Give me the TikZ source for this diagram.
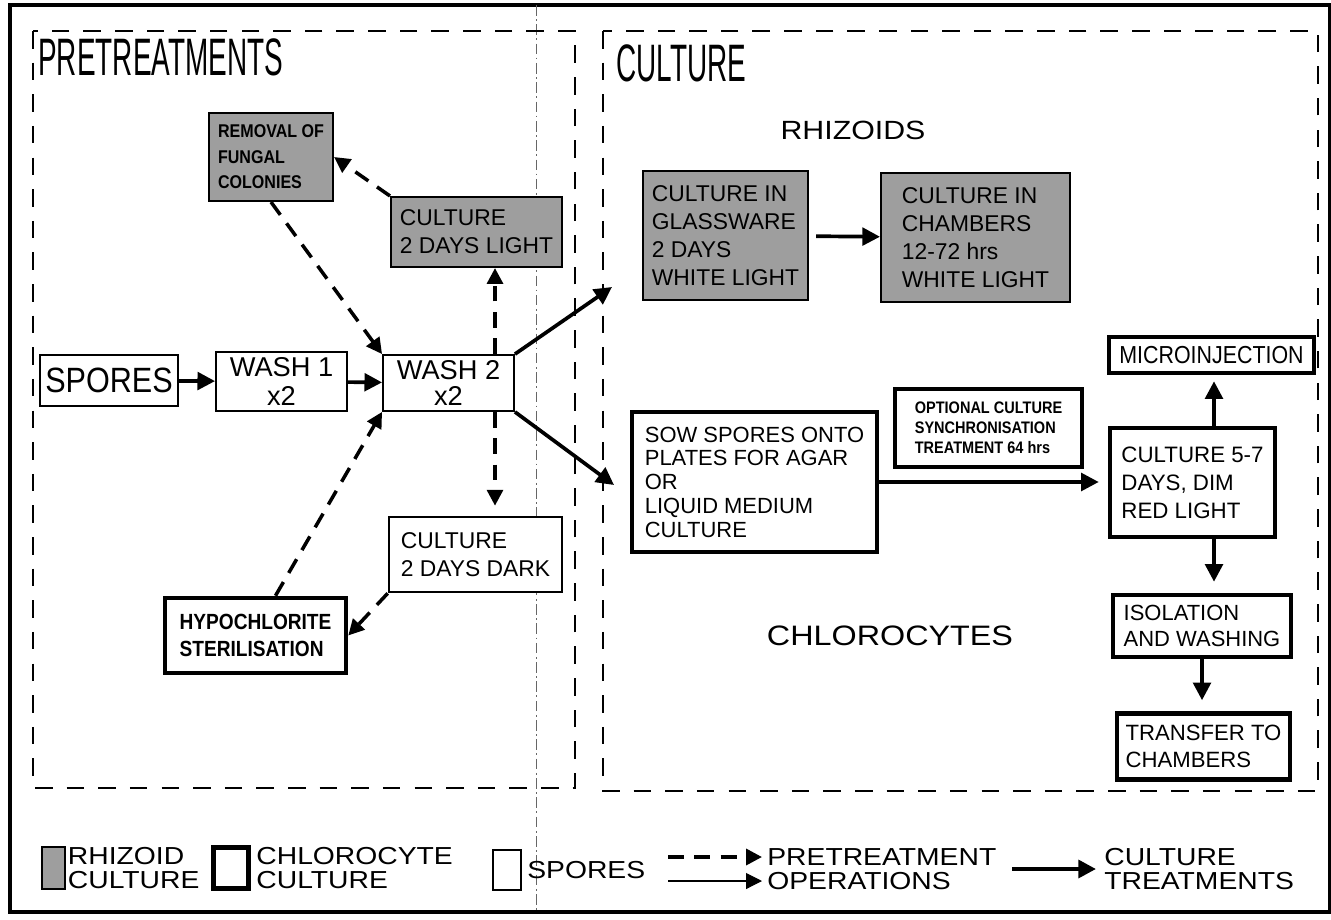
\documentclass[tikz,border=0pt]{standalone}
\usepackage{fontspec}
\setmainfont{Liberation Sans}
\newfontfamily\headfont[FakeStretch=0.53]{Liberation Sans}
\newfontfamily\boxfont[FakeStretch=0.87]{Liberation Sans}
\newfontfamily\widefont[FakeStretch=1.15]{Liberation Sans}
\usetikzlibrary{arrows.meta,positioning,calc}
\tikzset{>={Triangle[length=10pt,width=10pt]},
	rhbox/.style={draw,line width=1.2pt,fill=black!38,align=left,inner sep=3pt},
	spbox/.style={draw,line width=1.1pt,fill=white,align=center,inner sep=3pt},
	chbox/.style={draw,line width=2.6pt,fill=white,align=left,inner sep=3pt},
	pre/.style={-{Triangle[length=9pt,width=9pt]},line width=2pt,dash pattern=on 9pt off 6pt},
	cul/.style={->,line width=2.1pt},
	region/.style={line width=1.1pt,dash pattern=on 10pt off 8pt}}
\newcommand{\fs}[2]{\fontsize{#1}{#2}\selectfont}

\begin{document}
\begin{tikzpicture}[x=0.02cm,y=-0.02cm]
	\useasboundingbox (0,0) rectangle (1331,919);
	% frame and the two regions
	\draw[line width=2.2pt] (10,5) rectangle (1330,912);
	\draw[black!60,line width=0.3pt,dash pattern=on 6pt off 2pt on 1pt off 2pt] (536,5) -- (536,912);
	\draw[region] (33,31) rectangle (575,788);
	\draw[region] (603,31) rectangle (1318,791);
	\node[anchor=north west,inner sep=0,font=\headfont\fs{30}{30}] (pretitle) at (38,38) {PRETREATMENTS};
	\node[anchor=north west,inner sep=0,font=\headfont\fs{30}{30}] (cultitle) at (616,44) {CULTURE};
	% pretreatments
	\node[rhbox,minimum width=2.48cm,minimum height=1.76cm,font=\boxfont\bfseries\fs{10.5}{14.5}] (removal) at (271,157) {REMOVAL OF\\FUNGAL\\COLONIES};
	\node[rhbox,minimum width=3.42cm,minimum height=1.4cm,font=\fs{13}{16}] (light) at (476.5,232) {CULTURE\\2 DAYS LIGHT};
	\node[spbox,minimum width=2.72cm,minimum height=1.02cm,font=\boxfont\fs{20}{20}] (spores) at (109,380.5) {SPORES};
	\node[spbox,minimum width=2.62cm,minimum height=1.1cm,font=\fs{15.5}{16.5}] (wash1) at (281.5,381.5) {WASH 1\\x2};
	\node[spbox,minimum width=2.62cm,minimum height=1.04cm,font=\fs{15.5}{15}] (wash2) at (448.5,383) {WASH 2\\x2};
	\node[spbox,align=left,line width=1.5pt,minimum width=3.46cm,minimum height=1.5cm,font=\fs{13}{16}] (dark) at (475.5,554.5) {CULTURE\\2 DAYS DARK};
	\node[chbox,minimum width=3.62cm,minimum height=1.5cm,font=\boxfont\bfseries\fs{12.5}{15.5}] (hypo) at (255.5,635.5) {HYPOCHLORITE\\STERILISATION};
	\coordinate (lightcol) at (495,0);
	\draw[cul] (spores) -- (wash1);
	\draw[cul] (wash1) -- (wash2);
	\draw[pre] (light.north west) -- (removal.east);
	\draw[pre] (removal.south) -- (wash2.north west);
	\draw[pre] ([xshift=0.4cm]hypo.north) -- (wash2.south west);
	\draw[pre] (wash2.north -| lightcol) -- (light.south -| lightcol);
	\draw[pre,shorten >=0.2cm] (wash2.south -| lightcol) -- (dark.north -| lightcol);
	\draw[pre] (dark.south west) -- (hypo.east);
	% culture: rhizoids
	\node[font=\widefont\fs{15}{15}] (rhlabel) at (853,130) {RHIZOIDS};
	\node[rhbox,minimum width=3.3cm,minimum height=2.58cm,font=\fs{13}{16}] (glass) at (725.5,235.5) {CULTURE IN\\GLASSWARE\\2 DAYS\\WHITE LIGHT};
	\node[rhbox,minimum width=3.78cm,minimum height=2.58cm,font=\fs{13}{16}] (chamb) at (975.5,237.5) {CULTURE IN\\CHAMBERS\\12-72 hrs\\WHITE LIGHT};
	\coordinate (rhin) at (612,287);
	\coordinate (chin) at (614,485);
	\draw[cul] (wash2.north east) -- (rhin);
	\draw[cul] (wash2.south east) -- (chin);
	\draw[cul,shorten <=0.14cm] (glass) -- (chamb);
	% culture: chlorocytes
	\node[font=\widefont\fs{16}{16}] (chlabel) at (890,636) {CHLOROCYTES};
	\node[chbox,minimum width=4.9cm,minimum height=2.8cm,font=\fs{12.5}{13.5}] (sow) at (754.5,482) {SOW SPORES ONTO\\PLATES FOR AGAR\\OR\\LIQUID MEDIUM\\CULTURE};
	\node[chbox,minimum width=3.74cm,minimum height=1.56cm,font=\boxfont\bfseries\fs{9.5}{11.5}] (option) at (988.5,428) {OPTIONAL CULTURE\\SYNCHRONISATION\\TREATMENT 64 hrs};
	\node[chbox,minimum width=3.3cm,minimum height=2.18cm,font=\fs{12.7}{16}] (cult57) at (1192.5,482.5) {CULTURE 5-7\\DAYS, DIM\\RED LIGHT};
	\node[chbox,minimum width=4.1cm,minimum height=0.72cm,font=\boxfont\fs{14}{14}] (micro) at (1211.5,355) {MICROINJECTION};
	\node[chbox,minimum width=3.56cm,minimum height=1.24cm,font=\fs{12.5}{15}] (isol) at (1202,626) {ISOLATION\\AND WASHING};
	\node[chbox,minimum width=3.46cm,minimum height=1.32cm,font=\fs{12.6}{15}] (transfer) at (1203.5,746.5) {TRANSFER TO\\CHAMBERS};
	\coordinate (chcol) at (1214,0);
	\draw[cul,shorten >=0.18cm] (sow.east) -- (cult57.west |- sow.east);
	\draw[cul,shorten >=0.12cm] (cult57.north -| chcol) -- (micro.south -| chcol);
	\draw[cul,shorten >=0.22cm] (cult57.south -| chcol) -- (isol.north -| chcol);
	\draw[cul,shorten >=0.22cm] (isol.south) -- (isol.south |- transfer.north);
	% key
	\node[draw,line width=1pt,fill=black!38,minimum width=0.46cm,minimum height=0.84cm] (keyrh) at (53.5,868) {};
	\node[right=1pt of keyrh,inner sep=0,align=left,font=\widefont\fs{14}{14}] (keyrhtext) {RHIZOID\\CULTURE};
	\node[draw,line width=2.6pt,minimum width=0.7cm,minimum height=0.82cm] (keych) at (231,868) {};
	\node[right=3pt of keych,inner sep=0,align=left,font=\widefont\fs{14}{14}] (keychtext) {CHLOROCYTE\\CULTURE};
	\node[draw,line width=0.8pt,minimum width=0.56cm,minimum height=0.8cm] (keysp) at (507,870) {};
	\node[right=3pt of keysp,inner sep=0,font=\widefont\fs{14}{14}] (keysptext) {SPORES};
	\coordinate (keyprea) at (668,857);
	\coordinate (keypreb) at (762,857);
	\coordinate (keyopa) at (668,881);
	\coordinate (keyopb) at (762,881);
	\draw[pre] (keyprea) -- (keypreb);
	\draw[-{Triangle[length=9pt,width=9pt]},line width=0.6pt] (keyopa) -- (keyopb);
	\node[anchor=west,inner sep=0,align=left,font=\widefont\fs{14}{14}] (keypretext) at (767,869) {PRETREATMENT\\OPERATIONS};
	\coordinate (keycula) at (1012,869);
	\coordinate (keyculb) at (1096,869);
	\draw[cul,line width=2.4pt] (keycula) -- (keyculb);
	\node[anchor=west,inner sep=0,align=left,font=\widefont\fs{14}{14}] (keycultext) at (1104,869) {CULTURE\\TREATMENTS};
\end{tikzpicture}
\end{document}
